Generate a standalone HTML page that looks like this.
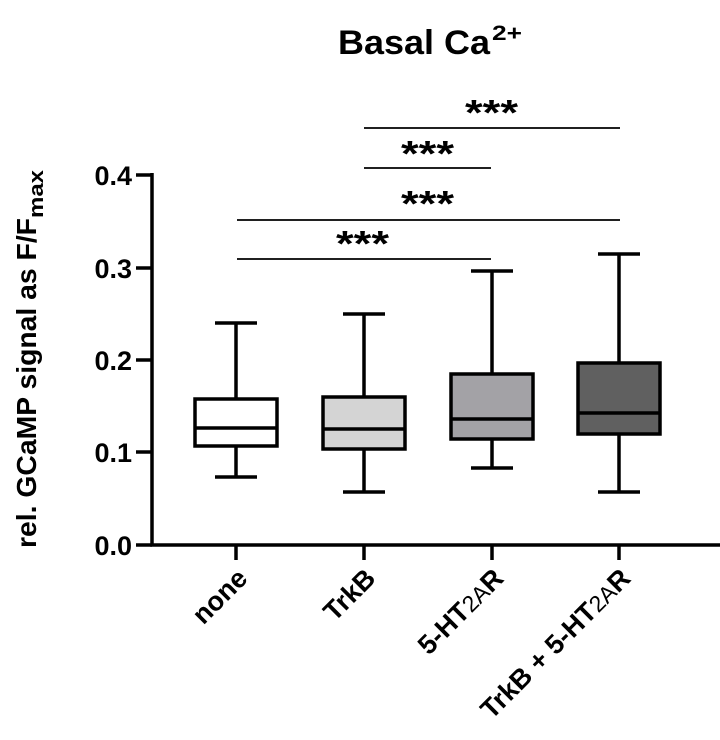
<!DOCTYPE html>
<html><head><meta charset="utf-8"><style>
html,body{margin:0;padding:0;background:#fff;}
svg{display:block;}
text{font-family:"Liberation Sans",Arial,sans-serif;font-weight:bold;fill:#000;}
</style></head><body>
<svg width="720" height="740" viewBox="0 0 720 740" xmlns="http://www.w3.org/2000/svg">
<text x="338" y="54" font-size="34" textLength="152" lengthAdjust="spacingAndGlyphs">Basal Ca</text>
<text x="492" y="40" font-size="21" textLength="30" lengthAdjust="spacingAndGlyphs">2+</text>
<text transform="translate(36,548) rotate(-90)" font-size="28" textLength="330" lengthAdjust="spacingAndGlyphs">rel. GCaMP signal as F/F</text>
<text transform="translate(43,218) rotate(-90)" font-size="20" textLength="48" lengthAdjust="spacingAndGlyphs">max</text>
<g font-size="27" text-anchor="end">
<text x="132" y="555">0.0</text>
<text x="132" y="462">0.1</text>
<text x="132" y="370">0.2</text>
<text x="132" y="278">0.3</text>
<text x="132" y="185">0.4</text>
</g>
<g stroke="#000" stroke-width="3.5" fill="none">
<path d="M152 173 V545 H720"/>
<path d="M136 175 H152 M136 268 H152 M136 360 H152 M136 452 H152 M136 545 H152"/>
<path d="M236 545 V560 M364 545 V560 M492 545 V560 M619 545 V560"/>
</g>
<g stroke="#000" stroke-width="1.8">
<path d="M364 128 H620 M364 168 H491 M237 220 H620 M237 259 H491"/>
</g>
<g font-size="36">
<text x="465" y="125" textLength="53" lengthAdjust="spacingAndGlyphs">***</text>
<text x="401" y="166" textLength="53" lengthAdjust="spacingAndGlyphs">***</text>
<text x="401" y="216" textLength="53" lengthAdjust="spacingAndGlyphs">***</text>
<text x="336" y="256" textLength="53" lengthAdjust="spacingAndGlyphs">***</text>
</g>
<g stroke="#000" stroke-width="3.5">
<path d="M236 323 V399 M236 446 V477 M215 323 H257 M215 477 H257"/>
<rect x="195" y="399" width="82" height="47" fill="#fff"/>
<path d="M195 428 H277"/>
<path d="M364 314 V397 M364 449 V492 M343 314 H385 M343 492 H385"/>
<rect x="323" y="397" width="82" height="52" fill="#d4d4d4"/>
<path d="M323 429 H405"/>
<path d="M492 271 V374 M492 439 V468 M471 271 H513 M471 468 H513"/>
<rect x="451" y="374" width="82" height="65" fill="#a3a2a6"/>
<path d="M451 419 H533"/>
<path d="M619 254 V363 M619 434 V492 M598 254 H640 M598 492 H640"/>
<rect x="578" y="363" width="82" height="71" fill="#606060"/>
<path d="M578 413 H660"/>
</g>
<g font-size="27" text-anchor="end">
<text transform="translate(249,580) rotate(-45)">none</text>
<text transform="translate(377,580) rotate(-45)">TrkB</text>
<text transform="translate(505,580) rotate(-45)">5-HT<tspan font-weight="normal" font-size="23">2A</tspan>R</text>
<text transform="translate(632,580) rotate(-45)">TrkB + 5-HT<tspan font-weight="normal" font-size="23">2A</tspan>R</text>
</g>
</svg>
</body></html>
